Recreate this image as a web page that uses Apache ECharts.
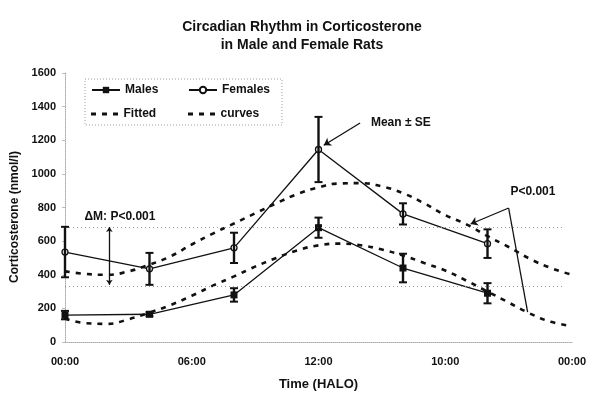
<!DOCTYPE html>
<html><head><meta charset="utf-8">
<script src="https://cdn.jsdelivr.net/npm/echarts@6/dist/echarts.min.js"></script>
<style>html,body{margin:0;padding:0;background:#fff}#c{width:600px;height:400px}</style>
</head><body><div id="c"></div>
<script>
// ---- data ----
const hours = [0, 4, 8, 12, 16, 20];
const malesMean = [160, 165, 280, 680, 440, 290];
const malesSE = [25, 12, 40, 60, 85, 60];
const femalesMean = [535, 435, 560, 1145, 762, 585];
const femalesSE = [150, 95, 90, 194, 63, 85];
const fitHours = [0,1,2,3,4,5,6,7,8,9,10,11,12,13,14,15,16,17,18,19,20,21,22,23,24];
const femaleFit = [420,405,400,420,460,510,580,645,705,765,825,880,920,943,945,925,885,825,755,700,630,565,495,440,400];
const maleFit = [140,112,108,135,175,220,275,335,390,448,500,545,575,585,575,550,515,470,425,365,300,235,170,120,95];
const tickLabels = ['00:00', '06:00', '12:00', '10:00', '00:00'];
const refLines = [684, 330];
const deltaArrow = [[2.1, 684], [2.1, 340]];
const pPath = [[19.2, 702], [21.0, 797], [21.9, 178]];
const meanArrow = [[13.97, 1303], [12.25, 1170]];
const noteTexts = ['\u0394M: P<0.001', 'Mean \u00b1 SE', 'P<0.001'];
const notePos = [[2.6, 744], [15.9, 1303], [22.15, 893]];

// ---- build ----
const zip = (xs, ys) => xs.map((x, i) => [x, ys[i]]);
const errData = hours.map((h, i) => [h, malesMean[i] - malesSE[i], malesMean[i] + malesSE[i]])
  .concat(hours.map((h, i) => [h, femalesMean[i] - femalesSE[i], femalesMean[i] + femalesSE[i]]));
const FONT = 'Liberation Sans, Arial, sans-serif';
const dashStyle = { color: '#111', width: 2.6, type: [5, 6] };
const dashIcon = 'path://M0,0h5v3h-5zM11,0h5v3h-5zM22,0h5v3h-5z';

const chart = echarts.init(document.getElementById('c'));
const legendBase = { padding: 0, itemWidth: 28, itemHeight: 8, itemGap: 0,
  textStyle: { fontFamily: FONT, fontSize: 12, fontWeight: 'bold', color: '#111' }, selectedMode: false };
chart.setOption({
  animation: false,
  backgroundColor: '#fff',
  title: { text: 'Circadian Rhythm in Corticosterone\nin Male and Female Rats', left: 297, textAlign: 'center', top: 13,
    textStyle: { fontFamily: FONT, fontSize: 14, fontWeight: 'bold', color: '#111', lineHeight: 18 } },
  grid: { left: 65, right: 28, top: 73, bottom: 58 },
  legend: [
    Object.assign({ data: ['Males'], left: 91, top: 84 }, legendBase),
    Object.assign({ data: ['Females'], left: 188, top: 84 }, legendBase),
    Object.assign({}, legendBase, { data: [{ name: 'Fitted', icon: dashIcon }], left: 91, top: 108, itemHeight: 3 }),
    Object.assign({}, legendBase, { data: [{ name: 'curves', icon: dashIcon }], left: 188, top: 108, itemHeight: 3 })
  ],
  xAxis: { type: 'value', min: 0, max: 24, interval: 6,
    name: 'Time (HALO)', nameLocation: 'middle', nameGap: 36,
    nameTextStyle: { fontFamily: FONT, fontSize: 13, fontWeight: 'bold', color: '#111' },
    axisLine: { lineStyle: { color: '#aaa', type: 'dotted', width: 1 } },
    axisTick: { show: false }, splitLine: { show: false },
    axisLabel: { fontFamily: FONT, fontSize: 11, fontWeight: 'bold', color: '#111', margin: 14,
      formatter: v => tickLabels[Math.round(v / 6)] } },
  yAxis: { type: 'value', min: 0, max: 1600, interval: 200,
    axisLine: { show: true, lineStyle: { color: '#aaa', type: 'dotted', width: 1 } },
    axisTick: { show: true, length: 3, lineStyle: { color: '#bbb' } }, splitLine: { show: false },
    axisLabel: { fontFamily: FONT, fontSize: 11, fontWeight: 'bold', color: '#111', margin: 9,
      formatter: v => String(v) } },
  graphic: [
    { type: 'rect', shape: { x: 85, y: 79, width: 197, height: 46 },
      style: { fill: 'none', stroke: '#888', lineWidth: 0.8, lineDash: [1, 2] } },
    { type: 'text', x: 15, y: 217, rotation: Math.PI / 2,
      style: { text: 'Corticosterone (nmol/l)', fontFamily: FONT, fontSize: 12, fontWeight: 'bold', fill: '#111',
        textAlign: 'center', textVerticalAlign: 'middle' } }
  ],
  series: [
    { name: 'Fitted', type: 'line', data: zip(fitHours, femaleFit), smooth: true, showSymbol: false, symbol: 'none',
      lineStyle: dashStyle, itemStyle: { color: '#111' }, z: 2,
      markLine: { silent: true, symbol: 'none', label: { show: false },
        lineStyle: { color: '#999', type: [1, 3], width: 1 },
        data: refLines.map(v => [{ coord: [0, v] }, { coord: [23.6, v] }]) } },
    { name: 'curves', type: 'line', data: zip(fitHours, maleFit), smooth: true, showSymbol: false, symbol: 'none',
      lineStyle: dashStyle, itemStyle: { color: '#111' }, z: 2 },
    { name: 'Males', type: 'line', data: zip(hours, malesMean), symbol: 'rect', symbolSize: 7,
      lineStyle: { color: '#111', width: 1.3 }, itemStyle: { color: '#111' }, z: 4,
      markLine: { silent: true, label: { show: false }, symbolSize: 7,
        lineStyle: { color: '#111', type: 'solid', width: 1.3 },
        data: [
          [{ coord: pPath[1], symbol: 'none' }, { coord: pPath[0], symbol: 'arrow' }],
          [{ coord: pPath[1], symbol: 'none' }, { coord: pPath[2], symbol: 'none' }],
          [{ coord: meanArrow[0], symbol: 'none' }, { coord: meanArrow[1], symbol: 'arrow' }],
          [{ coord: deltaArrow[0], symbol: 'arrow', symbolSize: 5 }, { coord: deltaArrow[1], symbol: 'arrow', symbolSize: 5 }]
        ] } },
    { name: 'Females', type: 'line', data: zip(hours, femalesMean), symbol: 'circle', symbolSize: 6,
      lineStyle: { color: '#111', width: 1.3 }, itemStyle: { color: '#fff', borderColor: '#111', borderWidth: 1.3 }, z: 4 },
    { name: 'SE', type: 'custom', data: errData, z: 5,
      renderItem: (params, api) => {
        const x = api.value(0), lo = api.value(1), hi = api.value(2);
        const a = api.coord([x, hi]), b = api.coord([x, lo]);
        const w = 4, st = { stroke: '#111', lineWidth: 2.4 };
        return { type: 'group', children: [
          { type: 'line', shape: { x1: a[0], y1: a[1], x2: b[0], y2: b[1] }, style: st },
          { type: 'line', shape: { x1: a[0] - w, y1: a[1], x2: a[0] + w, y2: a[1] }, style: { stroke: '#111', lineWidth: 2 } },
          { type: 'line', shape: { x1: b[0] - w, y1: b[1], x2: b[0] + w, y2: b[1] }, style: { stroke: '#111', lineWidth: 2 } }
        ] };
      } },
    { name: 'notes', type: 'scatter', symbolSize: 0, silent: true, z: 6, itemStyle: { opacity: 1 },
      data: notePos.map((p, i) => ({ value: p, name: noteTexts[i] })),
      label: { show: true, position: 'inside', formatter: p => p.name, opacity: 1,
        fontFamily: FONT, fontSize: 12, fontWeight: 'bold', color: '#111' } }
  ]
});
</script></body></html>
